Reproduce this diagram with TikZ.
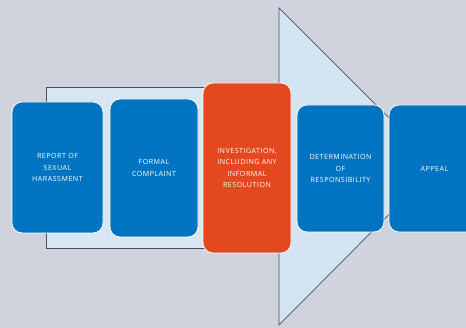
\documentclass[tikz,border=0pt]{standalone}
\usepackage{fontspec}
\setmainfont{Open Sans}
\newfontfamily\stagefont[LetterSpace=7]{Open Sans}
\definecolor{bg}{RGB}{207,211,221}
\definecolor{framefill}{RGB}{216,230,242}
\definecolor{trifill}{RGB}{212,228,242}
\definecolor{edge}{RGB}{70,80,90}
\definecolor{boxblue}{RGB}{0,116,192}
\definecolor{boxred}{RGB}{228,72,30}
\begin{document}
\begin{tikzpicture}[x=1pt,y=-1pt,
  stage/.style={draw=white,line width=0.8pt,fill=boxblue,rounded corners=10pt,
    text=white,font=\stagefont\fontsize{7.1}{11.2}\selectfont,align=center,inner sep=0pt}]
\fill[bg] (0,0) rectangle (466,328);
\useasboundingbox (0,0) rectangle (466,328);
% frame
\coordinate (ftr) at (205,87);
\coordinate (ftl) at (46,87);
\coordinate (fbl) at (46,248);
\coordinate (fbr) at (205,248);
\draw[edge,fill=framefill,line width=0.7pt] (ftr) -- (ftl) -- (fbl) -- (fbr);
% triangle
\coordinate (tt) at (279,8);
\coordinate (tapex) at (437,166);
\coordinate (tb) at (279,325);
\draw[edge,fill=trifill,line width=0.7pt] (tt) -- (tapex) -- (tb) -- cycle;
% boxes
\node[stage,minimum width=91pt,minimum height=131pt] (b1) at (57.5,167.5) {REPORT OF\\SEXUAL\\HARASSMENT};
\node[stage,minimum width=88pt,minimum height=138pt] (b2) at (154,168) {FORMAL\\COMPLAINT};
\node[stage,fill=boxred,minimum width=88pt,minimum height=170pt] (b3) at (247,168) {INVESTIGATION,\\INCLUDING ANY\\INFORMAL\\RESOLUTION};
\node[stage,minimum width=87pt,minimum height=127pt] (b4) at (340.5,168.5) {DETERMINATION\\OF\\RESPONSIBILITY};
\node[stage,minimum width=91pt,minimum height=127pt] (b5) at (434.5,168.5) {APPEAL};
\end{tikzpicture}
\end{document}
